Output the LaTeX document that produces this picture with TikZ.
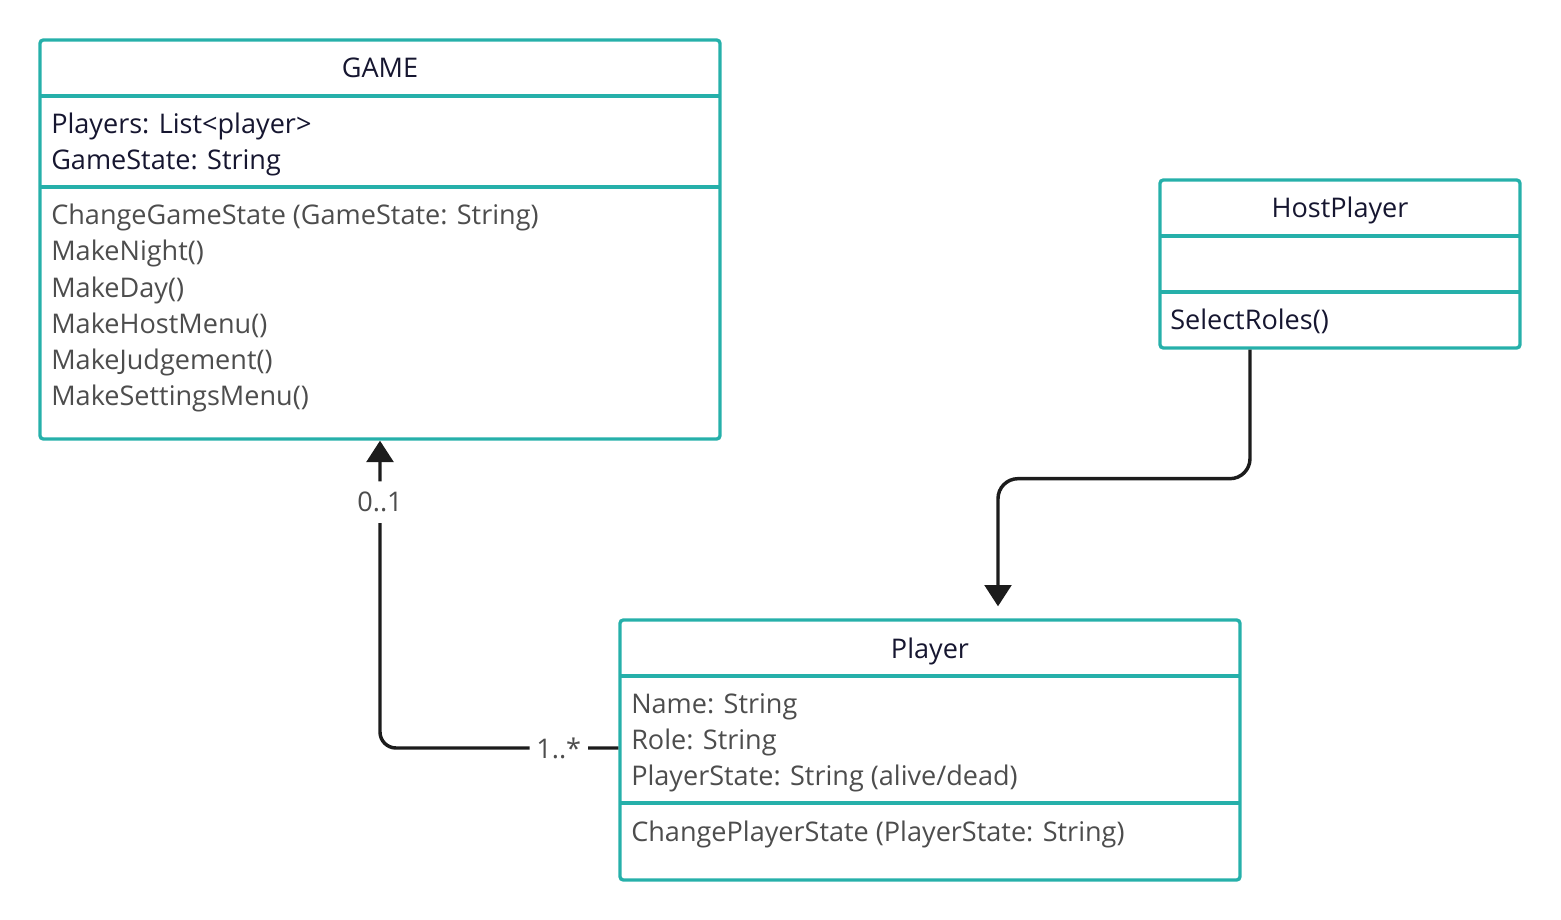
\documentclass[tikz,border=0pt]{standalone}
\usepackage{fontspec}
\setmainfont{Open Sans}
\usetikzlibrary{positioning,arrows.meta,calc}
\definecolor{umlteal}{RGB}{38,176,170}
\definecolor{umlink}{RGB}{22,22,48}
\definecolor{umlgray}{RGB}{77,77,77}
\definecolor{umlline}{RGB}{28,28,28}
\tikzset{
    classbox/.style={draw=umlteal, line width=2.5pt, rounded corners=2.5pt, inner sep=0pt},
    divider/.style={draw=umlteal, line width=2.5pt},
    umltitle/.style={anchor=base, inner sep=0pt, text=umlink, font=\fontsize{20.3}{24}\selectfont},
    member/.style={anchor=base west, inner sep=0pt, text=umlgray, font=\fontsize{20.3}{24}\selectfont},
    assoc/.style={draw=umlline, line width=2.6pt, rounded corners=12pt,
        -{Triangle[length=16pt, width=20pt]}},
    mult/.style={fill=white, inner xsep=5pt, inner ysep=8pt, text=umlgray, font=\fontsize{20.3}{24}\selectfont},
}
\begin{document}
\begin{tikzpicture}[x=0.75pt, y=-0.75pt]
    \useasboundingbox (0,0) rectangle (1561,920);

    % classes
    \node[classbox, minimum width=510pt, minimum height=299.25pt] (game) at (380,239.5) {};
    \node[classbox, minimum width=270pt, minimum height=126pt] (host) at (1340,264) {};
    \node[classbox, minimum width=465pt, minimum height=195pt] (player) at (930,750) {};

    \draw[divider] (40,96) -- (720,96);
    \draw[divider] (40,187) -- (720,187);
    \draw[divider] (1160,236) -- (1520,236);
    \draw[divider] (1160,292) -- (1520,292);
    \draw[divider] (620,676) -- (1240,676);
    \draw[divider] (620,803) -- (1240,803);

    % GAME
    \node[umltitle] (gametitle) at (380,78) {GAME};
    \node[member, text=umlink] (gameattr1) at (51,134) {Players: List<player>};
    \node[member, text=umlink] (gameattr2) at (51,170) {GameState: String};
    \foreach \name [count=\i from 0] in {ChangeGameState (GameState: String), MakeNight(),
        MakeDay(), MakeHostMenu(), MakeJudgement(), MakeSettingsMenu()}
        \node[member] (gameop\i) at (51,225+36*\i) {\name};

    % HostPlayer
    \node[umltitle] (hosttitle) at (1340,218) {HostPlayer};
    \node[member, text=umlink] (hostop) at (1170,329) {SelectRoles()};

    % Player
    \node[umltitle] (playertitle) at (930,658) {Player};
    \node[member] (playerattr1) at (631,713) {Name: String};
    \node[member] (playerattr2) at (631,749) {Role: String};
    \node[member] (playerattr3) at (631,785) {PlayerState: String (alive/dead)};
    \node[member] (playerop) at (631,841) {ChangePlayerState (PlayerState: String)};

    % associations
    \coordinate (playerin) at ($(player.west)+(0,-2)$);
    \draw[assoc] (playerin) -| (game.south)
        node[mult, pos=0.125] (mplayer) {1..*}
        node[mult, pos=0.9] (mgame) {0..1};

    \coordinate (hostout) at ($(host.south)+(-90,0)$);
    \coordinate (playertop) at ($(player.north)+(68,0)$);
    \draw[assoc, rounded corners=15pt, shorten >=9pt] (hostout) -- ++(0,129) -| (playertop);
\end{tikzpicture}
\end{document}
